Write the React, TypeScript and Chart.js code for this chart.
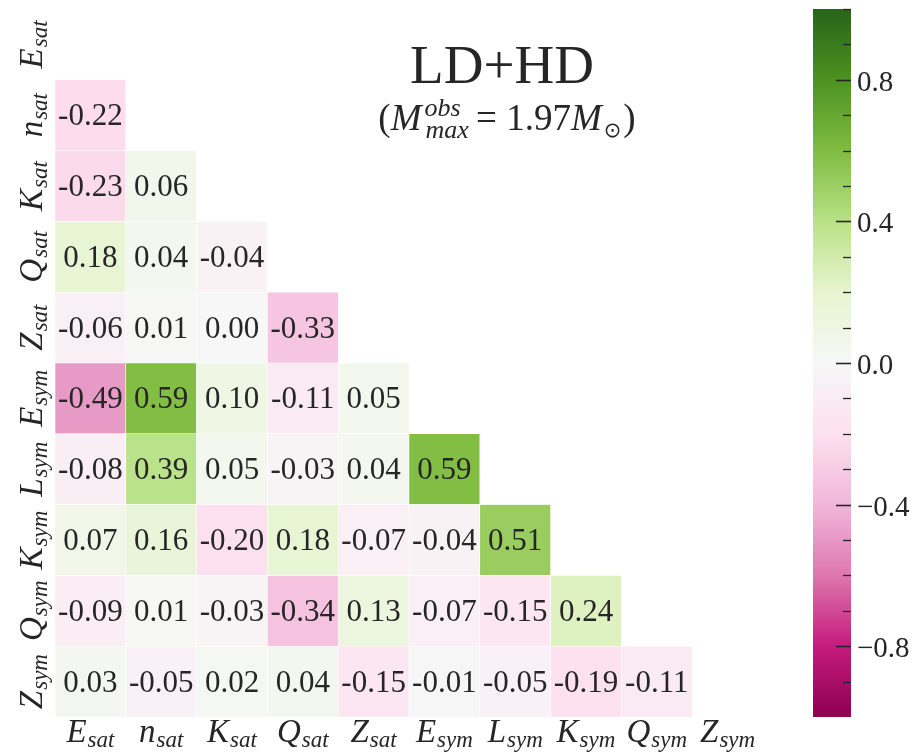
import React, { useEffect, useRef } from "react";
import { Chart, registerables } from "chart.js";

Chart.register(...registerables);

// ---- data ----
const variableMain = ["E", "n", "K", "Q", "Z", "E", "L", "K", "Q", "Z"];
const variableSub = ["sat", "sat", "sat", "sat", "sat", "sym", "sym", "sym", "sym", "sym"];
const categories = variableMain.map((m, i) => `${m}_${variableSub[i]}`);

// lower-triangle correlation rows (row i holds columns 0..i-1)
const row_E_sat: number[] = [];
const row_n_sat = [-0.22];
const row_K_sat = [-0.23, 0.06];
const row_Q_sat = [0.18, 0.04, -0.04];
const row_Z_sat = [-0.06, 0.01, 0.0, -0.33];
const row_E_sym = [-0.49, 0.59, 0.1, -0.11, 0.05];
const row_L_sym = [-0.08, 0.39, 0.05, -0.03, 0.04, 0.59];
const row_K_sym = [0.07, 0.16, -0.2, 0.18, -0.07, -0.04, 0.51];
const row_Q_sym = [-0.09, 0.01, -0.03, -0.34, 0.13, -0.07, -0.15, 0.24];
const row_Z_sym = [0.03, -0.05, 0.02, 0.04, -0.15, -0.01, -0.05, -0.19, -0.11];
const correlationRows = [
  row_E_sat, row_n_sat, row_K_sat, row_Q_sat, row_Z_sat,
  row_E_sym, row_L_sym, row_K_sym, row_Q_sym, row_Z_sym,
];

const colorbarMin = -1;
const colorbarMax = 1;
const colorbarMajorTicks = [-0.8, -0.4, 0.0, 0.4, 0.8];
const colorbarMinorTicks = [-0.9, -0.7, -0.6, -0.5, -0.3, -0.2, -0.1, 0.1, 0.2, 0.3, 0.5, 0.6, 0.7, 0.9, 1.0];

const titleText = "LD+HD";

// PiYG colormap stops
const PIYG = [
  "#8e0152", "#c51b7d", "#de77ae", "#f1b6da", "#fde0ef", "#f7f7f7",
  "#e6f5d0", "#b8e186", "#7fbc41", "#4d9221", "#276419",
];

function hexToRgb(h: string) {
  return [parseInt(h.slice(1, 3), 16), parseInt(h.slice(3, 5), 16), parseInt(h.slice(5, 7), 16)];
}
function colormap(v: number) {
  let t = (v - colorbarMin) / (colorbarMax - colorbarMin);
  t = Math.max(0, Math.min(1, t));
  const pos = t * (PIYG.length - 1);
  const i = Math.min(PIYG.length - 2, Math.floor(pos));
  const f = pos - i;
  const a = hexToRgb(PIYG[i]);
  const b = hexToRgb(PIYG[i + 1]);
  const c = a.map((x, k) => Math.round(x + (b[k] - x) * f));
  return `rgb(${c[0]},${c[1]},${c[2]})`;
}

const TEXT = "#262626";
const SERIF = '"Liberation Serif", "DejaVu Serif", serif';

function drawMathLabel(ctx: CanvasRenderingContext2D, cx: number, baseline: number, main: string, sub: string) {
  ctx.font = `italic 33px ${SERIF}`;
  const wm = ctx.measureText(main).width;
  ctx.font = `italic 23px ${SERIF}`;
  const ws = ctx.measureText(sub).width;
  const x0 = cx - (wm + ws + 1) / 2;
  ctx.textAlign = "left";
  ctx.textBaseline = "alphabetic";
  ctx.font = `italic 33px ${SERIF}`;
  ctx.fillText(main, x0, baseline);
  ctx.font = `italic 23px ${SERIF}`;
  ctx.fillText(sub, x0 + wm + 1, baseline + 5);
}

const overlayPlugin = {
  id: "overlay",
  afterDatasetsDraw(chart: any) {
    const ctx: CanvasRenderingContext2D = chart.ctx;
    const meta = chart.getDatasetMeta(0);
    const data = chart.data.datasets[0].data as any[];
    ctx.save();
    ctx.fillStyle = TEXT;
    ctx.font = `31px ${SERIF}`;
    ctx.textAlign = "center";
    ctx.textBaseline = "alphabetic";
    meta.data.forEach((el: any, i: number) => {
      const p = el.getProps(["x", "y", "base"], true);
      const cy = (p.y + p.base) / 2;
      ctx.fillText(data[i].v.toFixed(2), p.x, cy + 10);
    });
    ctx.restore();
  },
  afterDraw(chart: any) {
    const ctx: CanvasRenderingContext2D = chart.ctx;
    const xs = chart.scales.x;
    const ys = chart.scales.y;
    const area = chart.chartArea;
    ctx.save();
    ctx.fillStyle = TEXT;
    // x labels
    categories.forEach((_, j) => {
      drawMathLabel(ctx, xs.getPixelForValue(j), area.bottom + 25, variableMain[j], variableSub[j]);
    });
    // y labels (rotated)
    categories.forEach((_, i) => {
      const cy = ys.getPixelForValue(i + 0.5);
      ctx.save();
      ctx.translate(area.left - 13, cy);
      ctx.rotate(-Math.PI / 2);
      drawMathLabel(ctx, 0, 0, variableMain[i], variableSub[i]);
      ctx.restore();
    });

    // colorbar
    const cbLeft = area.right + 50;
    const cbRight = area.right + 88;
    const cbTop = area.top;
    const cbBottom = area.bottom;
    const vy = (v: number) => cbTop + ((colorbarMax - v) / (colorbarMax - colorbarMin)) * (cbBottom - cbTop);
    const grad = ctx.createLinearGradient(0, cbTop, 0, cbBottom);
    PIYG.forEach((c, k) => {
      grad.addColorStop(1 - k / (PIYG.length - 1), c);
    });
    ctx.fillStyle = grad;
    ctx.fillRect(cbLeft, cbTop, cbRight - cbLeft, cbBottom - cbTop);
    ctx.strokeStyle = TEXT;
    ctx.lineWidth = 1.3;
    colorbarMinorTicks.forEach((v) => {
      const y = Math.round(vy(v)) + 0.5;
      ctx.beginPath();
      ctx.moveTo(cbRight - 8, y);
      ctx.lineTo(cbRight, y);
      ctx.stroke();
    });
    ctx.lineWidth = 1.6;
    ctx.fillStyle = TEXT;
    ctx.font = `29px ${SERIF}`;
    ctx.textAlign = "left";
    ctx.textBaseline = "alphabetic";
    colorbarMajorTicks.forEach((v) => {
      const y = Math.round(vy(v)) + 0.5;
      ctx.beginPath();
      ctx.moveTo(cbRight - 15, y);
      ctx.lineTo(cbRight, y);
      ctx.stroke();
      const txt = (v < 0 ? "\u2212" : "") + Math.abs(v).toFixed(1);
      ctx.fillText(txt, cbRight + 6, y + 10);
    });

    // title
    ctx.textAlign = "center";
    ctx.font = `55px ${SERIF}`;
    ctx.fillText(titleText, 502, 83);

    // subtitle: (M_max^obs = 1.97 M_sun)
    const big = 37;
    const small = 26;
    const pieces: { t: string; f: string; dy: number; stackWith?: { t: string; f: string; dy: number } }[] = [
      { t: "(", f: `${big}px ${SERIF}`, dy: 0 },
      { t: "M", f: `italic ${big}px ${SERIF}`, dy: 0 },
      { t: "obs", f: `italic ${small}px ${SERIF}`, dy: -14, stackWith: { t: "max", f: `italic ${small}px ${SERIF}`, dy: 8 } },
      { t: " = ", f: `${big}px ${SERIF}`, dy: 0 },
      { t: "1.97", f: `${big}px ${SERIF}`, dy: 0 },
      { t: "M", f: `italic ${big}px ${SERIF}`, dy: 0 },
      { t: "\u2299", f: `${small - 5}px "DejaVu Sans", sans-serif`, dy: 7 },
      { t: ")", f: `${big}px ${SERIF}`, dy: 0 },
    ];
    const widths = pieces.map((p) => {
      ctx.font = p.f;
      let w = ctx.measureText(p.t).width;
      if (p.stackWith) {
        ctx.font = p.stackWith.f;
        w = Math.max(w, ctx.measureText(p.stackWith.t).width);
      }
      return w;
    });
    const total = widths.reduce((a, b) => a + b, 0) + 6;
    let x = 507 - total / 2;
    const base = 130;
    ctx.textAlign = "left";
    pieces.forEach((p, k) => {
      ctx.font = p.f;
      ctx.fillText(p.t, x + (p.stackWith ? 1 : 0), base + p.dy);
      if (p.stackWith) {
        ctx.font = p.stackWith.f;
        ctx.fillText(p.stackWith.t, x + 2, base + p.stackWith.dy);
      }
      x += widths[k] + (k === 1 || k === 5 || k === 6 ? 2 : 0);
    });
    ctx.restore();
  },
};

export default function App() {
  const ref = useRef<HTMLCanvasElement | null>(null);
  useEffect(() => {
    if (!ref.current) return;
    const cells: { x: string; y: [number, number]; v: number }[] = [];
    correlationRows.forEach((row, i) => {
      row.forEach((v, j) => {
        cells.push({ x: categories[j], y: [i, i + 1], v });
      });
    });
    const chart = new Chart(ref.current, {
      type: "bar",
      data: {
        labels: categories,
        datasets: [
          {
            data: cells as any,
            backgroundColor: (c: any) => colormap(c.raw ? c.raw.v : 0),
            borderColor: "#ffffff",
            borderWidth: 0.6,
            borderSkipped: false,
            categoryPercentage: 1,
            barPercentage: 1,
          },
        ],
      },
      options: {
        responsive: false,
        animation: false,
        events: [],
        layout: { padding: { left: 55, top: 9, right: 157, bottom: 39 } },
        plugins: { legend: { display: false }, tooltip: { enabled: false } },
        scales: {
          x: { type: "category", offset: true, display: false },
          y: { type: "linear", min: 0, max: 10, reverse: true, display: false },
        },
      },
      plugins: [overlayPlugin],
    });
    return () => chart.destroy();
  }, []);
  return (
    <div style={{ position: "absolute", left: 0, top: 0, width: 920, height: 756, background: "#fff" }}>
      <canvas ref={ref} width={920} height={756} style={{ width: 920, height: 756 }} />
    </div>
  );
}
